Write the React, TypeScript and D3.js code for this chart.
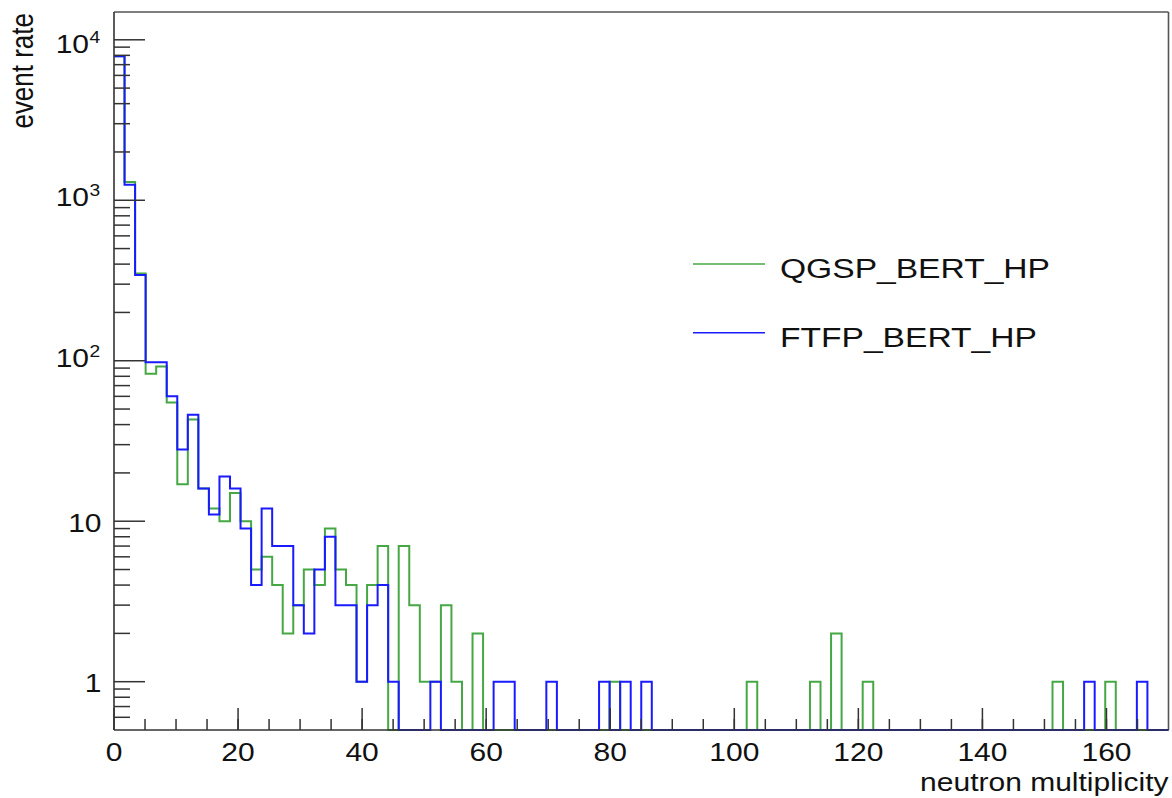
import React from "react";
import * as d3 from "d3";

// ---- data (100 bins from 0 to 170) ----
const xRange = [0, 170];
const binCount = 100;
const seriesNames = ["QGSP_BERT_HP", "FTFP_BERT_HP"];
const qgspValues = [
  7900, 1300, 350, 83, 92, 55, 17, 43, 16, 12,
  10, 15, 10, 5, 6, 4, 2, 3, 5, 4,
  9, 5, 4, 1, 4, 7, 0, 7, 3, 1,
  1, 3, 1, 0, 2, 0, 0, 0, 0, 0,
  0, 0, 0, 0, 0, 0, 0, 1, 0, 0,
  0, 0, 0, 0, 0, 0, 0, 0, 0, 0,
  1, 0, 0, 0, 0, 0, 1, 0, 2, 0,
  0, 1, 0, 0, 0, 0, 0, 0, 0, 0,
  0, 0, 0, 0, 0, 0, 0, 0, 0, 1,
  0, 0, 0, 0, 1, 0, 0, 0, 0, 0,
];
const ftfpValues = [
  7900, 1250, 342, 98, 98, 60, 28, 46, 16, 11,
  19, 16, 9, 4, 12, 7, 7, 3, 2, 5,
  8, 3, 3, 1, 3, 4, 1, 0, 0, 0,
  1, 0, 0, 0, 0, 0, 1, 1, 0, 0,
  0, 1, 0, 0, 0, 0, 1, 0, 1, 0,
  1, 0, 0, 0, 0, 0, 0, 0, 0, 0,
  0, 0, 0, 0, 0, 0, 0, 0, 0, 0,
  0, 0, 0, 0, 0, 0, 0, 0, 0, 0,
  0, 0, 0, 0, 0, 0, 0, 0, 0, 0,
  0, 0, 1, 0, 0, 0, 0, 1, 0, 0,
];
const xMajorTicks = [0, 20, 40, 60, 80, 100, 120, 140, 160];
const xMinorTicks = d3.range(5, 170, 5);
const yMajorTicks = [1, 10, 100, 1000, 10000];
const yDomain = [0.5, 14900];
const xTitle = "neutron multiplicity";
const yTitle = "event rate";

// ---- layout ----
const W = 1172;
const H = 798;
const L = 114;
const R = 1168.5;
const T = 12;
const B = 730;
const SX = 1.2; // horizontal stretch of the text in the reference
const FONT = "'Liberation Sans', Arial, Helvetica, sans-serif";
const GREEN = "#45a845";
const BLUE = "#1a1aff";

const x = d3.scaleLinear().domain(xRange).range([L, R]);
const y = d3.scaleLog().domain(yDomain).range([B, T]);
const binW = (xRange[1] - xRange[0]) / binCount;

function histPath(vals: number[]) {
  const pts = vals.map((v, i) => [xRange[0] + i * binW, v] as [number, number]);
  pts.push([xRange[1], vals[vals.length - 1]]);
  const line = d3
    .line<[number, number]>()
    .x((d) => x(d[0]))
    .y((d) => (d[1] > 0 ? y(d[1]) : B))
    .curve(d3.curveStepAfter);
  return line(pts) || "";
}

function SText(props: {
  x: number;
  y: number;
  size: number;
  anchor?: string;
  rotate?: number;
  children: React.ReactNode;
}) {
  const rot = props.rotate ? ` rotate(${props.rotate})` : "";
  return (
    <text
      transform={`translate(${props.x},${props.y}) scale(${SX},1)${rot}`}
      fontSize={props.size}
      fontFamily={FONT}
      textAnchor={props.anchor || "start"}
      fill="#111"
    >
      {props.children}
    </text>
  );
}

function yMinorTicks() {
  const out: number[] = [];
  for (let e = -1; e <= 4; e++) {
    for (let k = 2; k <= 9; k++) {
      const v = k * Math.pow(10, e);
      if (v >= yDomain[0] && v <= yDomain[1] && !(e === -1 && k < 5)) out.push(v);
    }
  }
  return out.filter((v) => v > yDomain[0]);
}

export default function App() {
  const topDecade = yMajorTicks[yMajorTicks.length - 1];
  return (
    <div style={{ position: "absolute", left: 0, top: 0 }}>
      <svg width={W} height={H} style={{ display: "block", background: "#fff" }}>
        <rect x={0} y={0} width={W} height={H} fill="#fff" />
        {/* frame */}
        <line x1={L} y1={T} x2={R} y2={T} stroke="#555" strokeWidth={1.6} />
        <line x1={R} y1={T} x2={R} y2={B} stroke="#555" strokeWidth={1.6} />

        {/* histograms */}
        <path d={histPath(qgspValues)} fill="none" stroke={GREEN} strokeWidth={2} />
        <path d={histPath(ftfpValues)} fill="none" stroke={BLUE} strokeWidth={2} />

        {/* axes */}
        <line x1={L} y1={T} x2={L} y2={B} stroke="#333" strokeWidth={1.6} />
        <line x1={L} y1={B} x2={R} y2={B} stroke="#333" strokeWidth={1.6} />

        {/* x ticks */}
        {xMinorTicks.map((t) => (
          <line key={"xm" + t} x1={x(t)} x2={x(t)} y1={B} y2={B - 11} stroke="#333" strokeWidth={1.5} />
        ))}
        {xMajorTicks.map((t) => (
          <line key={"xM" + t} x1={x(t)} x2={x(t)} y1={B} y2={B - 22} stroke="#333" strokeWidth={1.5} />
        ))}
        {xMajorTicks.map((t) => (
          <SText key={"xl" + t} x={x(t)} y={761} size={25} anchor="middle">
            {String(t)}
          </SText>
        ))}

        {/* y ticks */}
        {yMinorTicks().map((t) => (
          <line key={"ym" + t} x1={L} x2={L + 16} y1={y(t)} y2={y(t)} stroke="#333" strokeWidth={1.5} />
        ))}
        {yMajorTicks.map((t) => (
          <line key={"yM" + t} x1={L} x2={L + 31} y1={y(t)} y2={y(t)} stroke="#333" strokeWidth={1.5} />
        ))}
        {yMajorTicks.map((t) => {
          const e = Math.round(Math.log10(t));
          const ty = y(t);
          if (e <= 1) {
            return (
              <SText key={"yl" + t} x={101.5} y={ty + 10.5} size={25} anchor="end">
                {String(t)}
              </SText>
            );
          }
          const base = t === topDecade ? ty + 13 : ty + 6;
          return (
            <g key={"yl" + t}>
              <SText x={89} y={base} size={25} anchor="end">
                10
              </SText>
              <SText x={89.5} y={base - 10} size={16} anchor="start">
                {String(e)}
              </SText>
            </g>
          );
        })}

        {/* axis titles */}
        <SText x={R} y={791} size={25} anchor="end">
          {xTitle}
        </SText>
        <SText x={33} y={13} size={26} anchor="end" rotate={-90}>
          {yTitle}
        </SText>

        {/* legend */}
        <line x1={693} x2={765} y1={264} y2={264} stroke={GREEN} strokeWidth={1.6} />
        <line x1={693} x2={765} y1={332.7} y2={332.7} stroke={BLUE} strokeWidth={1.6} />
        <SText x={780} y={277.7} size={28}>
          {seriesNames[0]}
        </SText>
        <SText x={780} y={346.7} size={28}>
          {seriesNames[1]}
        </SText>
      </svg>
    </div>
  );
}
